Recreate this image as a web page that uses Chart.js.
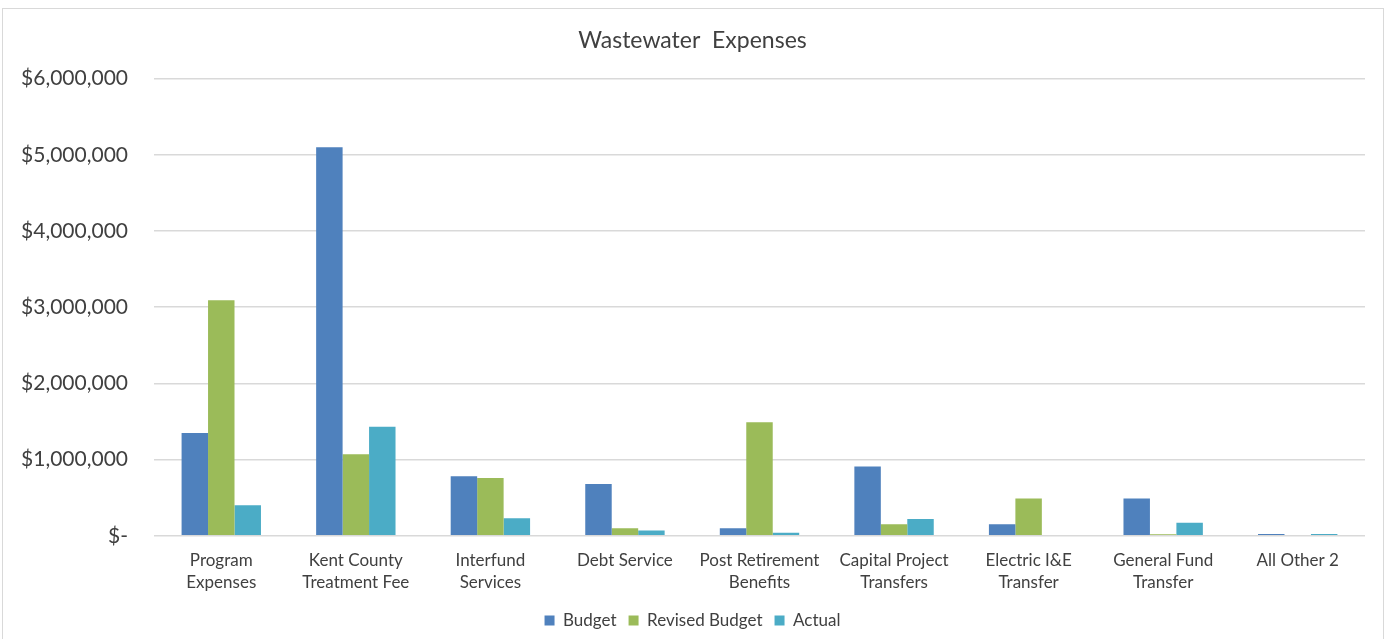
<!DOCTYPE html>
<html>
<head>
<meta charset="utf-8">
<script src="https://cdn.jsdelivr.net/npm/chart.js@4"></script>
<style>
  body { margin: 0; background: #fff; }
  #frame {
    position: absolute; left: 2px; top: 8px;
    width: 1382px; height: 640px;
    border: 1px solid #d9d9d9; box-sizing: border-box;
  }
  #chart { position: absolute; left: 0; top: 0; }
</style>
</head>
<body>
<div id="frame"><canvas id="chart" width="1380" height="631"></canvas></div>
<script>
// Categories (two-line labels like the original)
const categories = [
    ["Program", "Expenses"],
    ["Kent County", "Treatment Fee"],
    ["Interfund", "Services"],
    ["Debt Service"],
    ["Post Retirement", "Benefits"],
    ["Capital Project", "Transfers"],
    ["Electric I&E", "Transfer"],
    ["General Fund", "Transfer"],
    ["All Other 2"],
];

// Series values
const budget = [1350000, 5100000, 780000, 680000, 100000, 910000, 150000, 490000, 25000];
const revisedBudget = [3090000, 1070000, 760000, 100000, 1490000, 150000, 490000, 20000, 0];
const actual = [400000, 1430000, 230000, 70000, 40000, 220000, 0, 170000, 25000];

const yTicks = [0, 1000000, 2000000, 3000000, 4000000, 5000000, 6000000];

const fontFamily = "Lato, 'Open Sans', sans-serif";
const textColor = "#404040";

const ctx = document.getElementById("chart").getContext("2d");

const formatMoney = (v) => (v === 0 ? "$-" : "$" + v.toLocaleString("en-US"));

new Chart(ctx, {
    type: "bar",
    data: {
        labels: categories,
        datasets: [
            { label: "Budget", data: budget, backgroundColor: "#4f81bd" },
            { label: "Revised Budget", data: revisedBudget, backgroundColor: "#9bbb59" },
            { label: "Actual", data: actual, backgroundColor: "#4bacc6" },
        ],
    },
    options: {
        responsive: false,
        animation: false,
        layout: { padding: { left: 17, right: 18, top: 0, bottom: 1 } },
        datasets: {
            bar: { categoryPercentage: 0.59, barPercentage: 1.0 },
        },
        plugins: {
            title: {
                display: true,
                text: "Wastewater  Expenses",
                color: textColor,
                font: { family: fontFamily, size: 23, weight: "normal" },
                padding: { top: 18, bottom: 24 },
            },
            legend: {
                position: "bottom",
                labels: {
                    color: textColor,
                    font: { family: fontFamily, size: 17 },
                    boxWidth: 10,
                    boxHeight: 10,
                    padding: 12,
                },
            },
            tooltip: { enabled: false },
        },
        scales: {
            x: {
                grid: { display: false },
                border: { display: false },
                ticks: {
                    color: textColor,
                    font: { family: fontFamily, size: 17, lineHeight: 1.3 },
                    maxRotation: 0,
                    autoSkip: false,
                    padding: 6,
                },
            },
            y: {
                min: 0,
                max: 6000000,
                afterBuildTicks: (axis) => {
                    axis.ticks = yTicks.map((v) => ({ value: v }));
                },
                afterFit: (axis) => {
                    axis.width = 134;
                },
                grid: { color: "#d9d9d9", lineWidth: 1.5, drawTicks: false },
                border: { display: false },
                ticks: {
                    color: textColor,
                    font: { family: fontFamily, size: 21 },
                    padding: 26,
                    callback: (v) => formatMoney(v),
                },
            },
        },
    },
});
</script>
</body>
</html>
